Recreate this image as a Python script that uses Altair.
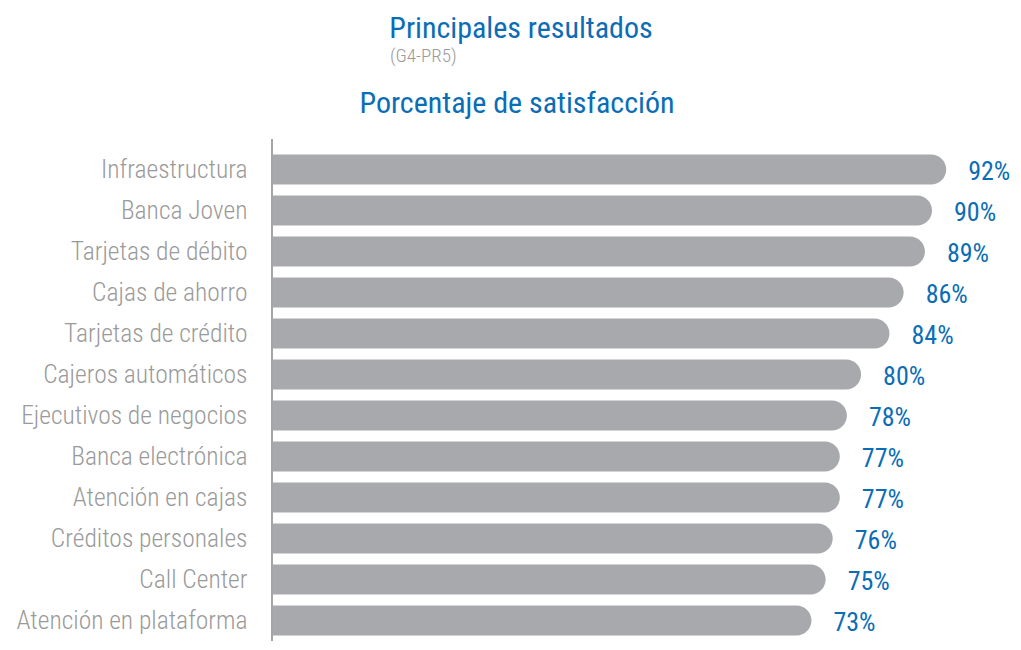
import altair as alt
import pandas as pd

categories = [
    "Infraestructura", "Banca Joven", "Tarjetas de débito", "Cajas de ahorro",
    "Tarjetas de crédito", "Cajeros automáticos", "Ejecutivos de negocios",
    "Banca electrónica", "Atención en cajas", "Créditos personales",
    "Call Center", "Atención en plataforma",
]
values = [92, 90, 89, 86, 84, 80, 78, 77, 77, 76, 75, 73]
labels = [f"{v}%" for v in values]

title_main = "Principales resultados"
title_code = "(G4-PR5)"
title_sub = "Porcentaje de satisfacción"

df = pd.DataFrame({"cat": categories, "val": values, "lab": labels})

FONT = "Roboto Condensed, Liberation Sans Narrow, Open Sans, sans-serif"
BLUE = "#0B6DB5"
GRAY_BAR = "#A7A9AC"
GRAY_TXT = "#9A9A9A"

W, H = 683, 492
XMIN = -3.2

y_enc = alt.Y(
    "cat:N", sort=categories, title=None,
    scale=alt.Scale(paddingInner=11 / 41, paddingOuter=11 / 82),
    axis=alt.Axis(domain=False, ticks=False, labelFontSize=25.5, labelColor=GRAY_TXT,
                  labelFont=FONT, labelFontWeight=300, labelPadding=24, labelLimit=400),
)
x_enc = alt.X("val:Q", scale=alt.Scale(domain=[XMIN, 93.1], zero=False), axis=None)

base = alt.Chart(df)
bars = base.mark_bar(
    color=GRAY_BAR, cornerRadiusTopRight=15, cornerRadiusBottomRight=15
).encode(y=y_enc, x=x_enc, x2=alt.datum(XMIN))

texts = base.mark_text(
    align="left", baseline="middle", dx=22, dy=2, fontSize=26, color=BLUE, font=FONT
).encode(y=y_enc, x=x_enc, text="lab:N")

one = alt.Data(values=[{}])
axis_line = alt.Chart(one).mark_rule(color="#A5A5A5", strokeWidth=2).encode(
    x=alt.value(1), y=alt.value(-10), y2=alt.value(H + 12)
)

t1 = alt.Chart(one).mark_text(
    align="center", baseline="alphabetic", fontSize=30, color=BLUE, font=FONT
).encode(x=alt.value(250), y=alt.value(-111), text=alt.value(title_main))

t2 = alt.Chart(one).mark_text(
    align="left", baseline="alphabetic", fontSize=19, color=GRAY_TXT, font=FONT, fontWeight=300
).encode(x=alt.value(119), y=alt.value(-87), text=alt.value(title_code))

t3 = alt.Chart(one).mark_text(
    align="center", baseline="alphabetic", fontSize=30, color=BLUE, font=FONT
).encode(x=alt.value(246), y=alt.value(-36), text=alt.value(title_sub))

chart = alt.layer(bars, texts, axis_line, t1, t2, t3).properties(
    width=W, height=H,
    autosize=alt.AutoSizeParams(type="none"),
    padding={"left": 263, "top": 141, "right": 59, "bottom": 0},
).configure(background="white", view=alt.ViewConfig(stroke=None))

chart.save("out.html", embed_options={"renderer": "svg", "actions": False})
